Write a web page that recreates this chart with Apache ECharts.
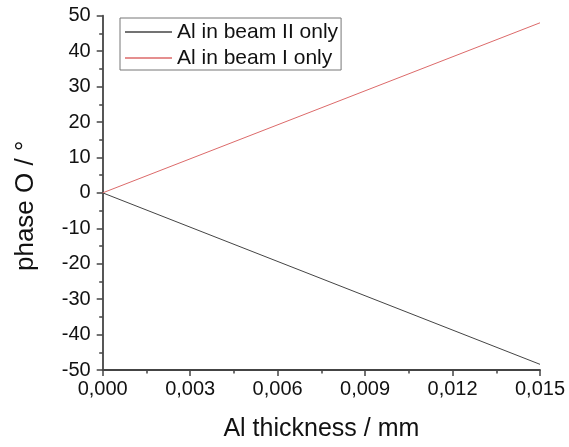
<!DOCTYPE html>
<html><head><meta charset="utf-8">
<script src="https://cdn.jsdelivr.net/npm/echarts@6/dist/echarts.min.js"></script>
<style>html,body{margin:0;padding:0;background:#fff}#c{width:569px;height:447px}</style>
</head><body><div id="c"></div>
<script>
const thickness = [0, 0.015];
const beamIIonly = [0, -48.4];
const beamIonly = [0, 48.0];
const seriesNames = ['Al in beam II only', 'Al in beam I only'];
const xTitle = 'Al thickness / mm';
const yTitle = 'phase O / °';

const font = 'Liberation Sans, Arial, sans-serif';
const chart = echarts.init(document.getElementById('c'));
chart.setOption({
  animation: false,
  backgroundColor: '#fff',
  grid: { left: 102.7, right: 29, top: 15.7, bottom: 74, containLabel: false },
  legend: {
    orient: 'vertical', left: 120, top: 18,
    padding: [3, 3, 1, 5], itemGap: 4,
    borderColor: '#777', borderWidth: 1,
    itemWidth: 47, itemHeight: 1.5, icon: 'rect',
    textStyle: { fontFamily: font, fontSize: 21, lineHeight: 22, color: '#111' },
    data: seriesNames
  },
  xAxis: {
    type: 'value', min: 0, max: 0.015, interval: 0.003,
    name: xTitle, nameLocation: 'middle', nameGap: 47,
    nameTextStyle: { fontFamily: font, fontSize: 25, color: '#111' },
    axisLine: { show: true, onZero: false, lineStyle: { color: '#444', width: 1.8 } },
    axisTick: { show: true, inside: false, length: 6, lineStyle: { color: '#444', width: 1.5 } },
    minorTick: { show: true, splitNumber: 2, length: 3.5, lineStyle: { color: '#444', width: 1.5 } },
    splitLine: { show: false },
    axisLabel: { fontFamily: font, fontSize: 20, color: '#111', margin: 9,
      formatter: v => v.toFixed(3).replace('.', ',') }
  },
  yAxis: {
    type: 'value', min: -50, max: 50, interval: 10,
    name: yTitle, nameLocation: 'middle', nameGap: 64,
    nameTextStyle: { fontFamily: font, fontSize: 26, color: '#111', padding: [0, 26, 0, 0] },
    axisLine: { show: true, onZero: false, lineStyle: { color: '#444', width: 1.8 } },
    axisTick: { show: true, inside: false, length: 6, lineStyle: { color: '#444', width: 1.5 } },
    minorTick: { show: true, splitNumber: 2, length: 3.5, lineStyle: { color: '#444', width: 1.5 } },
    splitLine: { show: false },
    axisLabel: { fontFamily: font, fontSize: 20, color: '#111', margin: 12 }
  },
  series: [
    { name: seriesNames[0], type: 'line', showSymbol: false, symbol: 'none',
      data: thickness.map((x, i) => [x, beamIIonly[i]]),
      lineStyle: { color: '#444', width: 1 }, itemStyle: { color: '#444' } },
    { name: seriesNames[1], type: 'line', showSymbol: false, symbol: 'none',
      data: thickness.map((x, i) => [x, beamIonly[i]]),
      lineStyle: { color: '#dc6a6a', width: 1 }, itemStyle: { color: '#dc6a6a' } }
  ]
});
</script></body></html>
